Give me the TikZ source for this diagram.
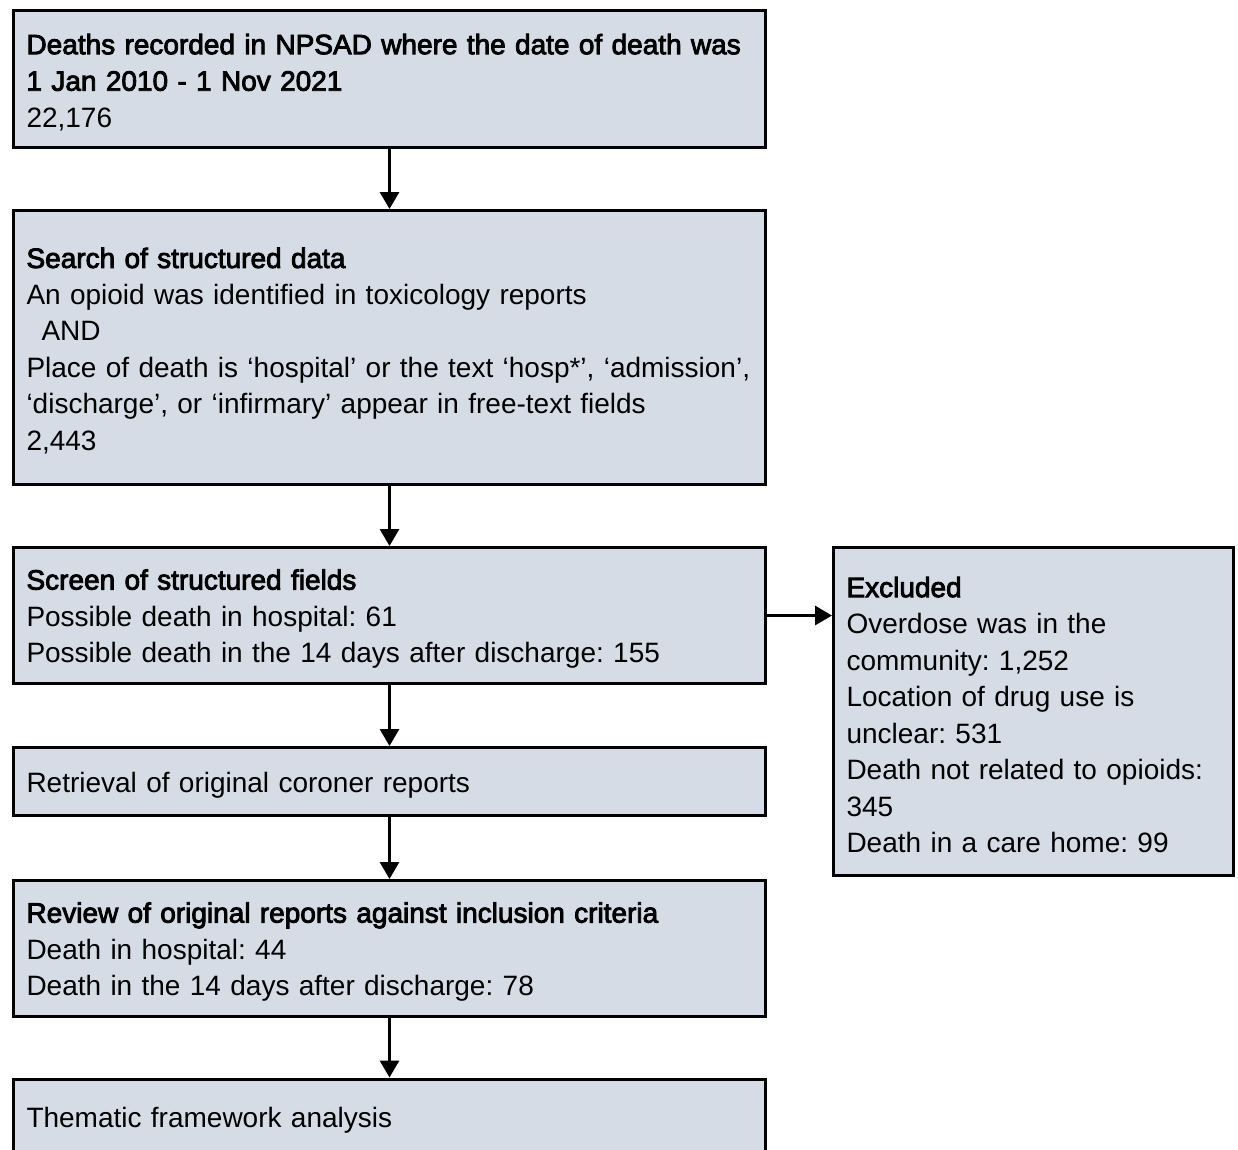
\documentclass[tikz,border=0pt]{standalone}
\usepackage{fontspec}
\setmainfont{Liberation Sans}
\newfontfamily\hdfont{Liberation Sans}[FakeBold=3]
\usetikzlibrary{arrows.meta}
\definecolor{boxfill}{HTML}{D6DCE5}
\newcommand\hd[1]{{\hdfont #1}}
\newcommand\tstrut{\rule{0pt}{27pt}}
\frenchspacing
\begin{document}
\begin{tikzpicture}[x=1pt,y=-1pt,
 box/.style={draw=black, line width=3pt, fill=boxfill, minimum width=752pt, text width=726pt, inner xsep=13pt, inner ysep=0pt, align=left, font=\fontsize{28}{36.5}\selectfont\frenchspacing},
 exbox/.style={box, minimum width=400pt, text width=374pt},
 arr/.style={line width=3pt, -{Triangle[length=17pt,width=19pt]}}]
\clip (0,0) rectangle (1238,1149);
\fill[white] (0,0) rectangle (1238,1149);
\node[box, minimum height=137pt] (b1) at (389.5,79) {\tstrut\hd{Deaths recorded in NPSAD where the date of death was}\\\hd{1 Jan 2010 - 1 Nov 2021}\\22,176};
\node[box, minimum height=274pt] (b2) at (389.5,347.5) {\tstrut\hd{Search of structured data}\\An opioid was identified in toxicology reports\\\hspace*{15pt}AND\\Place of death is ‘hospital’ or the text ‘hosp*’, ‘admission’,\\‘discharge’, or ‘infirmary’ appear in free-text fields\\2,443};
\node[box, minimum height=136pt] (b3) at (389.5,615.5) {\tstrut\hd{Screen of structured fields}\\Possible death in hospital: 61\\Possible death in the 14 days after discharge: 155};
\node[box, minimum height=68pt] (b4) at (389.5,781.5) {\tstrut Retrieval of original coroner reports};
\node[box, minimum height=136pt] (b5) at (389.5,948.5) {\tstrut\hd{Review of original reports against inclusion criteria}\\Death in hospital: 44\\Death in the 14 days after discharge: 78};
\node[box, minimum height=76pt] (b6) at (389.5,1117) {\tstrut Thematic framework analysis};
\node[exbox, minimum height=328pt] (ex) at (1033.5,711.5) {\tstrut\hd{Excluded}\\Overdose was in the\\community: 1,252\\Location of drug use is\\unclear: 531\\Death not related to opioids:\\345\\Death in a care home: 99};
\draw[arr] (b1.south) -- (b2.north);
\draw[arr] (b2.south) -- (b3.north);
\draw[arr] (b3.south) -- (b4.north);
\draw[arr] (b4.south) -- (b5.north);
\draw[arr] (b5.south) -- (b6.north);
\draw[arr] (b3.east) -- (b3.east -| ex.west);
\end{tikzpicture}
\end{document}
